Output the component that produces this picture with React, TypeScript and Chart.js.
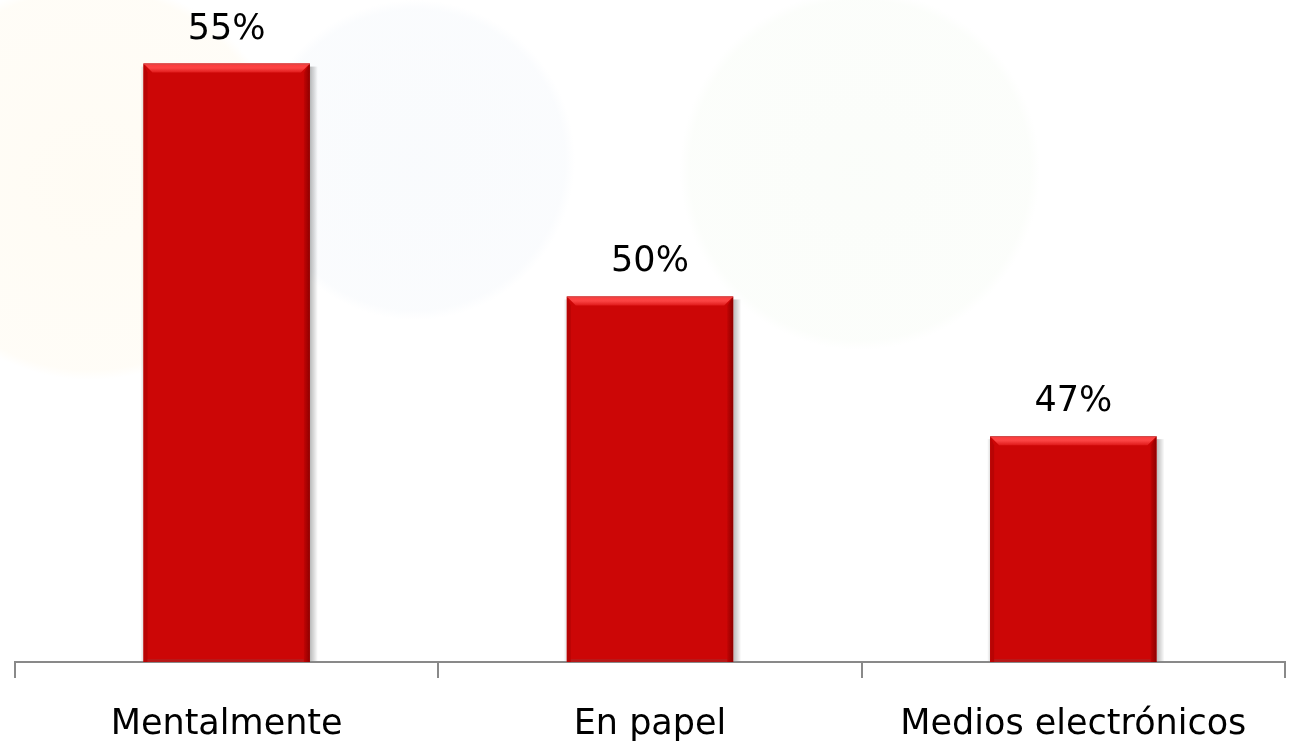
import React, { useEffect, useRef } from "react";
import { Chart, registerables } from "chart.js";

Chart.register(...registerables);

const categories: string[] = ["Mentalmente", "En papel", "Medios electrónicos"];
const values: number[] = [55, 50, 47];
const valueLabels: string[] = ["55%", "50%", "47%"];

const FONT = "'DejaVu Sans', Verdana, sans-serif";

function barBox(chart: any, bar: any) {
  const left = bar.x - bar.width / 2;
  const right = bar.x + bar.width / 2;
  const top = bar.y;
  const bottom = Math.min(bar.base, chart.chartArea.bottom);
  return { left, right, top, bottom };
}

const bevelPlugin = {
  id: "bevel",
  beforeDatasetsDraw(chart: any) {
    const ctx = chart.ctx;
    const meta = chart.getDatasetMeta(0);
    ctx.save();
    meta.data.forEach((bar: any) => {
      const { left, right, top, bottom } = barBox(chart, bar);
      const g = ctx.createLinearGradient(right, 0, right + 8, 0);
      g.addColorStop(0, "rgba(0,0,0,0.28)");
      g.addColorStop(1, "rgba(0,0,0,0)");
      ctx.fillStyle = g;
      ctx.fillRect(right, top + 3, 8, bottom - top - 4);
      const g2 = ctx.createLinearGradient(left, 0, left - 3, 0);
      g2.addColorStop(0, "rgba(0,0,0,0.12)");
      g2.addColorStop(1, "rgba(0,0,0,0)");
      ctx.fillStyle = g2;
      ctx.fillRect(left - 3, top + 3, 3, bottom - top - 4);
    });
    ctx.restore();
  },
  afterDatasetsDraw(chart: any) {
    const ctx = chart.ctx;
    const meta = chart.getDatasetMeta(0);
    ctx.save();
    meta.data.forEach((bar: any) => {
      const { left, right, top, bottom } = barBox(chart, bar);
      const bh = 9;
      const b = 9;
      // left side
      ctx.fillStyle = "#b80404";
      ctx.beginPath();
      ctx.moveTo(left, top);
      ctx.lineTo(left + 4, top + bh);
      ctx.lineTo(left + 4, bottom);
      ctx.lineTo(left, bottom);
      ctx.closePath();
      ctx.fill();
      // right side
      const gr = ctx.createLinearGradient(right - 6, 0, right, 0);
      gr.addColorStop(0, "#c00404");
      gr.addColorStop(1, "#8e0000");
      ctx.fillStyle = gr;
      ctx.beginPath();
      ctx.moveTo(right, top);
      ctx.lineTo(right - 6, top + bh);
      ctx.lineTo(right - 6, bottom);
      ctx.lineTo(right, bottom);
      ctx.closePath();
      ctx.fill();
      // top bevel
      const gt = ctx.createLinearGradient(0, top, 0, top + bh);
      gt.addColorStop(0, "#ff3a3a");
      gt.addColorStop(0.5, "#fb4444");
      gt.addColorStop(1, "#e01a1a");
      ctx.fillStyle = gt;
      ctx.beginPath();
      ctx.moveTo(left, top);
      ctx.lineTo(right, top);
      ctx.lineTo(right - b, top + bh);
      ctx.lineTo(left + b, top + bh);
      ctx.closePath();
      ctx.fill();
      ctx.fillStyle = "rgba(200,80,80,0.9)";
      ctx.fillRect(left, top, right - left, 1);
      // bottom edge
      ctx.fillStyle = "#b81818";
      ctx.fillRect(left + 4, bottom - 3, right - left - 10, 3);
    });
    ctx.restore();
  },
  afterDraw(chart: any) {
    const ctx = chart.ctx;
    const meta = chart.getDatasetMeta(0);
    ctx.save();
    ctx.fillStyle = "#000000";
    ctx.font = `35px ${FONT}`;
    ctx.textAlign = "center";
    ctx.textBaseline = "alphabetic";
    meta.data.forEach((bar: any, i: number) => {
      ctx.fillText(valueLabels[i], bar.x, bar.y - 25);
    });
    ctx.restore();
  },
};

export default function App() {
  const canvasRef = useRef<HTMLCanvasElement | null>(null);

  useEffect(() => {
    document.body.style.margin = "0";
    const canvas = canvasRef.current;
    if (!canvas) return;
    const chart = new Chart(canvas, {
      type: "bar",
      data: {
        labels: categories,
        datasets: [
          {
            data: values,
            backgroundColor: "#cc0606",
            borderWidth: 0,
            barPercentage: 0.393,
            categoryPercentage: 1,
          },
        ],
      },
      options: {
        animation: false,
        responsive: true,
        maintainAspectRatio: false,
        layout: { padding: { top: 17, left: 15, right: 6, bottom: 0 } },
        plugins: {
          legend: { display: false },
          tooltip: { enabled: false },
        },
        scales: {
          x: {
            afterFit(scale: any) {
              scale.height = 84;
            },
            grid: {
              display: true,
              drawOnChartArea: false,
              drawTicks: true,
              tickLength: 16,
              color: "#898989",
              lineWidth: 2,
              offset: true,
            },
            border: { display: true, color: "#898989", width: 2 },
            ticks: {
              color: "#000000",
              padding: 26,
              font: { family: FONT, size: 35 },
              maxRotation: 0,
              autoSkip: false,
            },
          },
          y: {
            display: false,
            min: 42.15,
            max: 56,
          },
        },
      },
      plugins: [bevelPlugin],
    });
    return () => chart.destroy();
  }, []);

  return (
    <div
      style={{
        width: 1291,
        height: 746,
        position: "relative",
        background:
          "radial-gradient(circle at 90px 180px, rgba(255,238,200,0.2) 0, rgba(255,238,200,0.15) 190px, rgba(255,255,255,0) 200px)," +
          "radial-gradient(circle at 415px 160px, rgba(222,232,244,0.18) 0, rgba(222,232,244,0.15) 150px, rgba(255,255,255,0) 160px)," +
          "radial-gradient(circle at 860px 170px, rgba(232,244,226,0.18) 0, rgba(232,244,226,0.15) 170px, rgba(255,255,255,0) 180px)," +
          "#ffffff",
      }}
    >
      <canvas ref={canvasRef} />
    </div>
  );
}
